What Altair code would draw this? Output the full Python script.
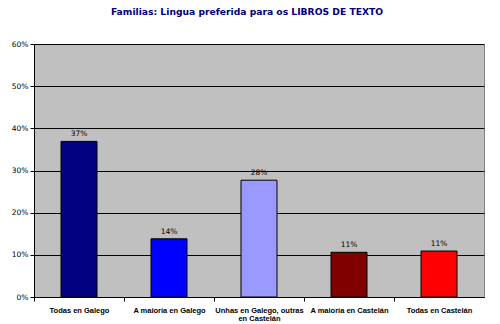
import altair as alt
import pandas as pd

categories = ["Todas en Galego", "A maioría en Galego", "Unhas en Galego, outras en Castelán",
              "A maioría en Castelán", "Todas en Castelán"]
values = [0.369, 0.138, 0.277, 0.106, 0.109]
colors = ["#000080", "#0000FF", "#9999FF", "#800000", "#FF0000"]

df = pd.DataFrame({"cat": categories, "val": values, "order": list(range(5))})

FONT = "DejaVu Sans"
XFONT = "Liberation Sans"

x = alt.X("cat:N", sort=categories, title=None,
          scale=alt.Scale(paddingInner=0.6, paddingOuter=0.3),
          axis=alt.Axis(labelAngle=0, labelFont=XFONT, labelFontSize=7.5, labelFontWeight="bold",
                        labelColor="#000000", labelPadding=5, tickColor="#000000", tickSize=4,
                        domainColor="#000000", tickOffset=-45, labelOffset=45,
                        labelExpr="datum.value == 'Unhas en Galego, outras en Castelán' ? ['Unhas en Galego, outras', 'en Castelán'] : datum.value",
                        labelLineHeight=8.5))
y = alt.Y("val:Q", title=None,
          scale=alt.Scale(domain=[0, 0.6], nice=False),
          axis=alt.Axis(format=".0%", values=[0, 0.1, 0.2, 0.3, 0.4, 0.5, 0.6],
                        labelFont=FONT, labelFontSize=7.5, labelColor="#000000",
                        tickColor="#000000", tickSize=4, domainColor="#000000",
                        gridColor="#000000", gridWidth=1, labelPadding=2))

bars = alt.Chart(df).mark_bar(stroke="#000000", strokeWidth=1).encode(
    x=x, y=y,
    color=alt.Color("cat:N", scale=alt.Scale(domain=categories, range=colors), legend=None),
)
labels = alt.Chart(df).mark_text(baseline="bottom", dy=-3, font=FONT, fontSize=7.5, color="#000000").encode(
    x=alt.X("cat:N", sort=categories), y="val:Q", text=alt.Text("val:Q", format=".0%"))

chart = (bars + labels).properties(
    width=450, height=253,
    title=alt.TitleParams("Familias: Lingua preferida para os LIBROS DE TEXTO",
                          font=FONT, fontSize=9.2, fontWeight="bold", color="#000080",
                          offset=23, dx=-12),
    autosize=alt.AutoSizeParams(type="none"),
    padding={"left": 34, "top": 44, "right": 16, "bottom": 27},
    background="#FFFFFF",
).configure_view(fill="#C0C0C0", stroke="#808080", strokeWidth=1)

chart.save("out.html", embed_options={"renderer": "svg", "actions": False})
